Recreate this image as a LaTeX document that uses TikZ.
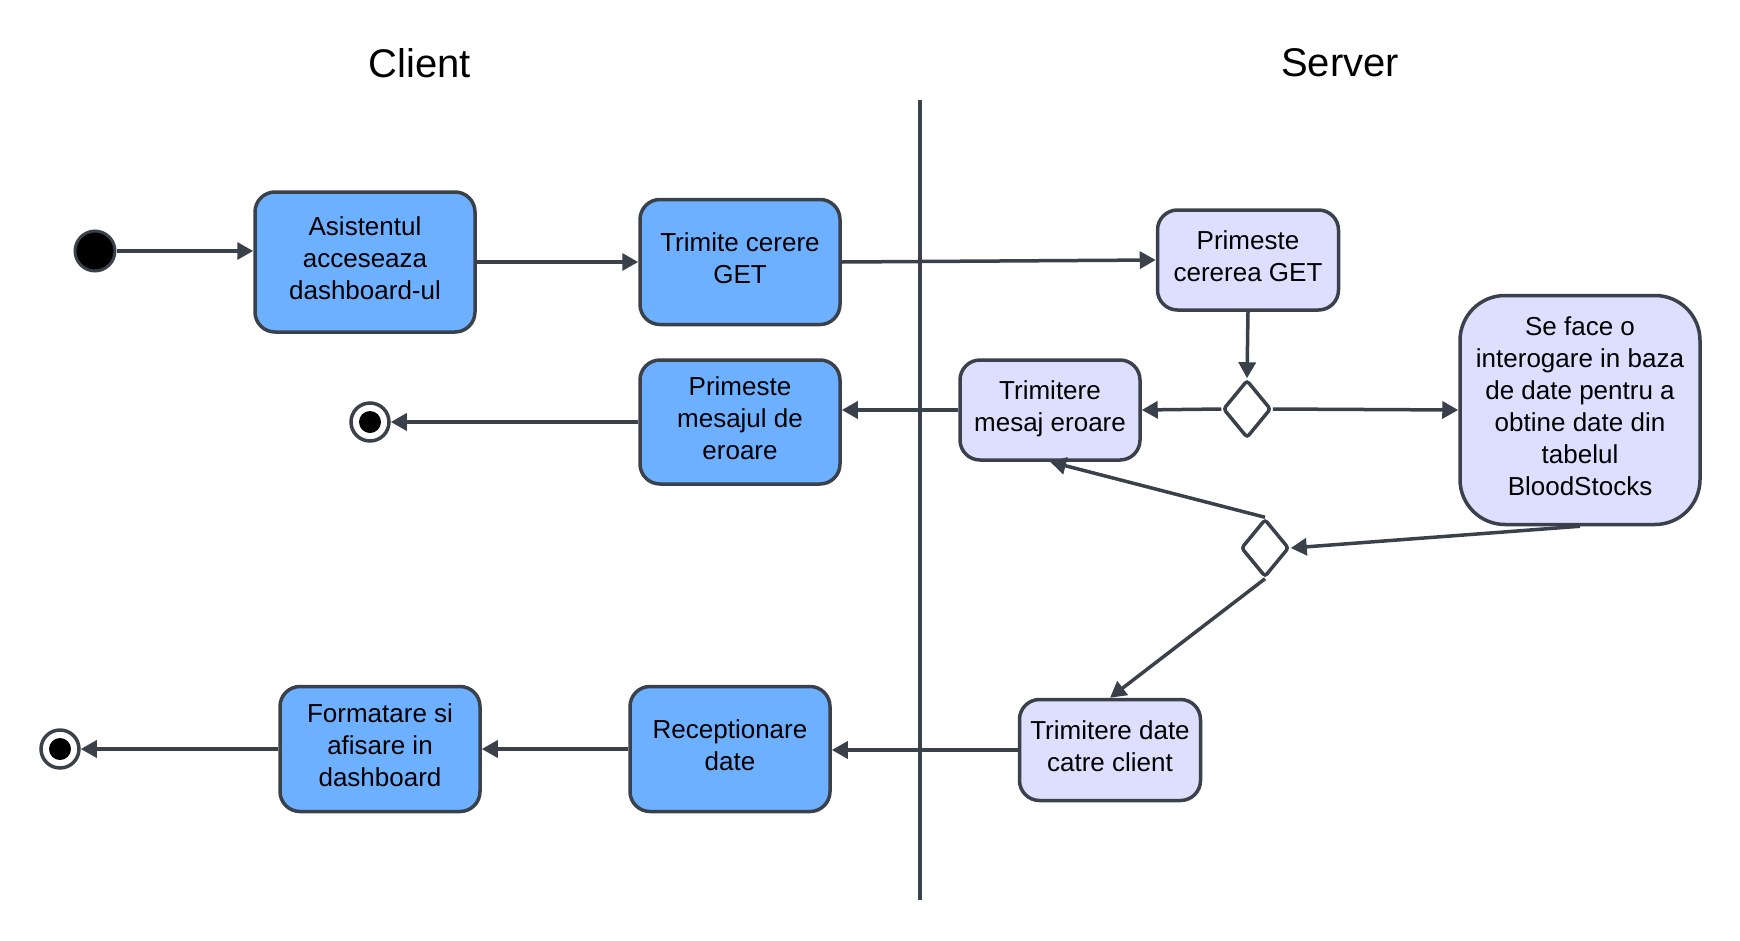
\documentclass[tikz,border=0pt]{standalone}
\usepackage{fontspec}
\setmainfont{Liberation Sans}
\usetikzlibrary{shapes.geometric,arrows.meta}
\definecolor{cblue}{RGB}{108,176,255}
\definecolor{clav}{RGB}{222,222,255}
\definecolor{cdark}{RGB}{58,65,74}
\tikzset{
  act/.style={draw=cdark, line width=3.5pt, rounded corners=20pt, align=center,
    font=\fontsize{26}{32}\selectfont, inner sep=0pt, text depth=7pt},
  clientbox/.style={act, fill=cblue},
  serverbox/.style={act, fill=clav},
  decision/.style={diamond, draw=cdark, line width=3.5pt, fill=white, rounded corners=3pt,
    minimum width=48pt, minimum height=58pt, inner sep=0pt},
  startstate/.style={circle, draw=cdark, line width=3pt, fill=black, minimum size=40pt, inner sep=0pt},
  endstate/.style={circle, draw=cdark, line width=3.5pt, fill=white, minimum size=38pt, inner sep=0pt,
    path picture={\fill[black] (path picture bounding box.center) circle (11pt);}},
  flow/.style={draw=cdark, line width=3.5pt, -{Triangle[length=16pt,width=17pt]}},
  lane/.style={draw=cdark, line width=3.5pt},
  title/.style={font=\fontsize{40}{48}\selectfont}
}
\begin{document}
\begin{tikzpicture}[x=1pt,y=-1pt]
\useasboundingbox (0,0) rectangle (1740,940);
\node[title] (tc) at (420,63) {Client};
\node[title] (ts) at (1340,63) {Server};
\coordinate (lt) at (920,100);
\coordinate (lb) at (920,900);
\draw[lane] (lt) -- (lb);

\node[startstate] (start) at (95,251) {};
\node[clientbox, minimum width=220pt, minimum height=140pt] (A) at (365,262) {Asistentul\\acceseaza\\dashboard-ul};
\node[clientbox, minimum width=200pt, minimum height=125pt] (B) at (740,262) {Trimite cerere\\GET};
\node[serverbox, minimum width=181pt, minimum height=100pt] (C) at (1248,260) {Primeste\\cererea GET};
\node[decision] (D1) at (1247,409) {};
\node[serverbox, minimum width=180pt, minimum height=100pt] (E) at (1050,410) {Trimitere\\mesaj eroare};
\node[serverbox, minimum width=240pt, minimum height=229pt, rounded corners=45pt] (F) at (1580,410) {Se face o\\interogare in baza\\de date pentru a\\obtine date din\\tabelul\\BloodStocks};
\node[clientbox, minimum width=200pt, minimum height=124pt] (G) at (740,422) {Primeste\\mesajul de\\eroare};
\node[endstate] (end1) at (370,422) {};
\node[decision] (D2) at (1265,548) {};
\node[serverbox, minimum width=181pt, minimum height=101pt] (H) at (1110,750) {Trimitere date\\catre client};
\node[clientbox, minimum width=200pt, minimum height=125pt] (I) at (730,749) {Receptionare\\date};
\node[clientbox, minimum width=200pt, minimum height=125pt] (J) at (380,749) {Formatare si\\afisare in\\dashboard};
\node[endstate] (end2) at (60,749) {};

\draw[flow] (start.east) -- (start.east -| A.west);
\draw[flow] (A.east) -- (B.west);
\draw[flow] (B.east) -- (C.west);
\draw[flow] (C.south) -- (D1.north);
\draw[flow] (D1.west) -- (E.east);
\draw[flow] (D1.east) -- (F.west);
\draw[flow] (E.west) -- (E.west -| G.east);
\draw[flow] (G.west |- end1) -- (end1.east);
\draw[flow] (F.south) -- (D2.east);
\draw[flow] (D2.north) -- (E.south);
\draw[flow] (D2.south) -- (H.north);
\draw[flow] (H.west) -- (H.west -| I.east);
\draw[flow] (I.west) -- (J.east);
\draw[flow] (J.west) -- (end2.east);
\end{tikzpicture}
\end{document}
